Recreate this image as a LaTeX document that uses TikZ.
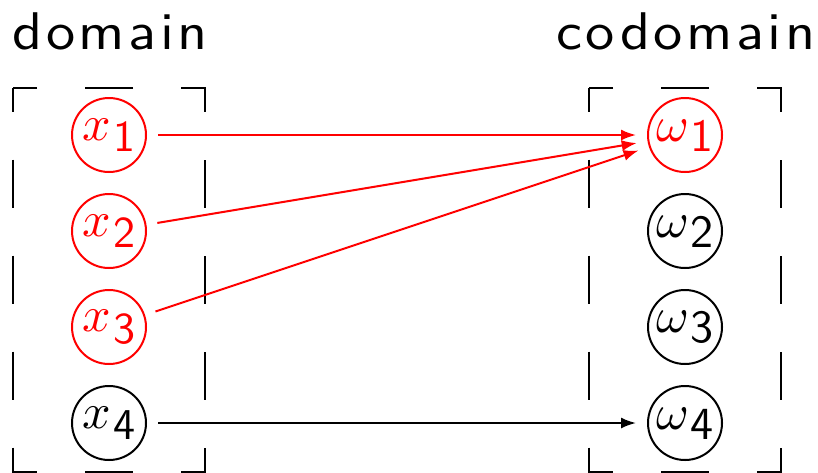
\documentclass[tikz,border=0pt]{standalone}
\usepackage{fontspec}
\usepackage{unicode-math}
\usetikzlibrary{arrows.meta}
\newfontfamily\lblfont[LetterSpace=6]{lmsans10-regular.otf}
\newfontfamily\digfont{lmsans10-regular.otf}
\tikzset{
  elem/.style={circle, draw, line width=2pt, minimum size=74pt, inner sep=0pt,
    outer sep=12pt, font=\fontsize{50}{60}\selectfont},
  domainbox/.style={draw, line width=2pt, dash pattern=on 48pt off 48pt, dash phase=24pt},
  maparrow/.style={line width=2pt, -{Latex[length=15pt,width=11pt]}},
  settitle/.style={font=\lblfont\fontsize{53}{60}\selectfont, anchor=base, inner sep=0pt}
}
\newcommand{\elx}[1]{$x$\kern3pt\raisebox{-11.5pt}{\digfont\fontsize{44}{50}\selectfont #1}}
\newcommand{\elw}[1]{$\omega$\kern3pt\raisebox{-10pt}{\digfont\fontsize{46}{50}\selectfont #1}}
\newcommand{\wide}[1]{\scalebox{1.1}[1]{#1}}
\begin{document}
\begin{tikzpicture}[x=1pt,y=-1pt]
\useasboundingbox (0,0) rectangle (818,472);
% titles
\node[settitle] (dlabel) at (110,49) {\wide{domain}};
\node[settitle] (clabel) at (686,49) {\wide{codomain}};
% dashed sets
\draw[domainbox] (13,87.5) rectangle (205,471.5);
\draw[domainbox] (589,87.5) rectangle (781,471.5);
% domain elements
\node[elem, red] (x1) at (109,135) {\elx{1}};
\node[elem, red] (x2) at (109,231) {\elx{2}};
\node[elem, red] (x3) at (109,327) {\elx{3}};
\node[elem] (x4) at (109,423) {\elx{4}};
% codomain elements
\node[elem, red] (w1) at (685,135) {\elw{1}};
\node[elem] (w2) at (685,231) {\elw{2}};
\node[elem] (w3) at (685,327) {\elw{3}};
\node[elem] (w4) at (685,423) {\elw{4}};
% mapping
\draw[maparrow, red] (x1) -- (w1);
\draw[maparrow, red] (x2) -- (w1);
\draw[maparrow, red] (x3) -- (w1);
\draw[maparrow] (x4) -- (w4);
\end{tikzpicture}
\end{document}
